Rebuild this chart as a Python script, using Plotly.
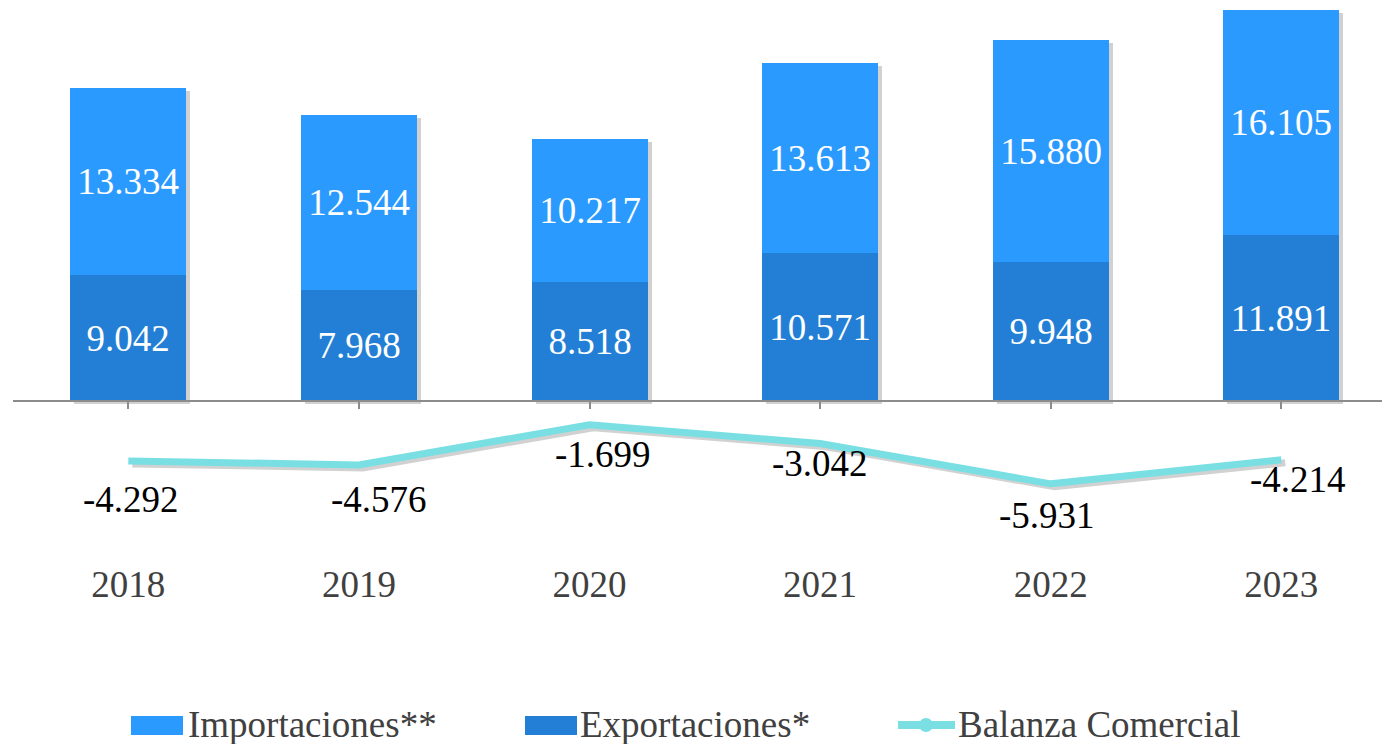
import plotly.graph_objects as go

# ---------------- data ----------------
years = ["2018", "2019", "2020", "2021", "2022", "2023"]
exportaciones = [9042, 7968, 8518, 10571, 9948, 11891]
importaciones = [13334, 12544, 10217, 13613, 15880, 16105]
balanza = [-4292, -4576, -1699, -3042, -5931, -4214]

# ---------------- styling ----------------
bal_label_dx = [3, 20, 13, 0, -4, 17]        # px offsets of balanza labels
bal_label_dy = [-39, -35, -30, -20, -32, -20]

W, H = 1382, 744
ML, MR, MT, MB = 13, 0, 0, 185
PW, PH = W - ML - MR, H - MT - MB
CAT_PX = 230.6
X_RANGE = [-0.5, -0.5 + PW / CAT_PX]
Y_RANGE = [-11313, 28712]
BAR_W = 0.503

C_IMP = "#2B9AFF"
C_EXP = "#237FD5"
C_BAL = "#79DFE3"
C_TXT = "#404040"
C_AXIS = "#8C8C8C"
FONT = "Liberation Serif"
FS = 37

SH_X, SH_Y = 4, 3  # shadow shift in px
SHADOW = "rgba(0,0,0,0.18)"


def fmt(v):
    return f"{v:,}".replace(",", ".")


totals = [e + i for e, i in zip(exportaciones, importaciones)]

ux = (X_RANGE[1] - X_RANGE[0]) / PW
uy = (Y_RANGE[1] - Y_RANGE[0]) / PH
X_SH = [X_RANGE[0] - SH_X * ux, X_RANGE[1] - SH_X * ux]
Y_SH = [Y_RANGE[0] + SH_Y * uy, Y_RANGE[1] + SH_Y * uy]

fig = go.Figure()

# shadows (drawn first, on shifted base axes)
fig.add_trace(go.Bar(x=years, y=totals, width=BAR_W, marker=dict(color=SHADOW, line=dict(width=0)),
                     xaxis="x", yaxis="y", showlegend=False, hoverinfo="skip"))
fig.add_trace(go.Scatter(x=years, y=balanza, mode="lines", line=dict(color=SHADOW, width=7),
                         xaxis="x", yaxis="y", showlegend=False, hoverinfo="skip"))

# real series
fig.add_trace(go.Bar(name="Exportaciones*", x=years, y=exportaciones, width=BAR_W,
                     marker=dict(color=C_EXP, line=dict(width=0)),
                     text=[fmt(v) for v in exportaciones], textposition="inside",
                     insidetextanchor="middle", textangle=0,
                     textfont=dict(size=FS, color="white", family=FONT),
                     xaxis="x2", yaxis="y2", showlegend=False))
fig.add_trace(go.Bar(name="Importaciones**", x=years, y=importaciones, width=BAR_W,
                     marker=dict(color=C_IMP, line=dict(width=0)),
                     text=[fmt(v) for v in importaciones], textposition="inside",
                     insidetextanchor="middle", textangle=0,
                     textfont=dict(size=FS, color="white", family=FONT),
                     xaxis="x2", yaxis="y2", showlegend=False))
fig.add_trace(go.Scatter(name="Balanza Comercial", x=years, y=balanza, mode="lines",
                         line=dict(color=C_BAL, width=7),
                         xaxis="x3", yaxis="y2", showlegend=False))

annotations = []
for i, (v, dx, dy) in enumerate(zip(balanza, bal_label_dx, bal_label_dy)):
    annotations.append(dict(x=i, y=v, xref="x2", yref="y2", text=fmt(v), showarrow=False,
                            xshift=dx, yshift=dy, font=dict(size=FS, color="black", family=FONT)))


# custom legend
def pxX(px):
    return (px - ML) / PW


def pxY(py):
    return (MT + PH - py) / PH


LEG_Y = 724
shapes = [
    dict(type="rect", xref="paper", yref="paper", x0=pxX(131), x1=pxX(183), y0=pxY(735), y1=pxY(716),
         fillcolor=C_IMP, line=dict(width=0)),
    dict(type="rect", xref="paper", yref="paper", x0=pxX(525), x1=pxX(577), y0=pxY(735), y1=pxY(716),
         fillcolor=C_EXP, line=dict(width=0)),
    dict(type="line", xref="paper", yref="paper", x0=pxX(898), x1=pxX(955), y0=pxY(725), y1=pxY(725),
         line=dict(color=C_BAL, width=8)),
    dict(type="circle", xref="paper", yref="paper", x0=pxX(919), x1=pxX(933), y0=pxY(732), y1=pxY(718),
         fillcolor=C_BAL, line=dict(width=0)),
]
for txt, px in [("Importaciones**", 186), ("Exportaciones*", 578), ("Balanza Comercial", 956)]:
    annotations.append(dict(x=pxX(px), y=pxY(LEG_Y), xref="paper", yref="paper", xanchor="left",
                            yanchor="middle", text=txt, showarrow=False,
                            font=dict(size=FS, color=C_TXT, family=FONT)))

zero_pos = (0 - Y_RANGE[0]) / (Y_RANGE[1] - Y_RANGE[0])

fig.update_layout(
    width=W, height=H,
    margin=dict(l=ML, r=MR, t=MT, b=MB, pad=0),
    paper_bgcolor="white", plot_bgcolor="white",
    barmode="stack", bargap=0,
    font=dict(family=FONT, size=FS, color=C_TXT),
    showlegend=False,
    xaxis=dict(type="category", categoryarray=years, range=X_SH, visible=False, fixedrange=True),
    yaxis=dict(range=Y_SH, visible=False, fixedrange=True),
    xaxis2=dict(type="category", categoryarray=years, range=X_RANGE, overlaying="x", anchor="y2",
                showline=False, ticks="", showgrid=False, zeroline=False,
                tickfont=dict(size=FS, color=C_TXT, family=FONT), fixedrange=True),
    yaxis2=dict(range=Y_RANGE, overlaying="y", anchor="x2", visible=False, fixedrange=True),
    xaxis3=dict(type="category", categoryarray=years, range=X_RANGE, overlaying="x", anchor="free",
                position=zero_pos, showline=True, linecolor=C_AXIS, linewidth=1.5,
                ticks="outside", ticklen=7, tickwidth=1.5, tickcolor=C_AXIS,
                showticklabels=False, showgrid=False, zeroline=False, fixedrange=True),
    shapes=shapes,
    annotations=annotations,
)

fig.write_html("out.html", config={"displayModeBar": False},
               post_script="document.body.style.margin='0';")
